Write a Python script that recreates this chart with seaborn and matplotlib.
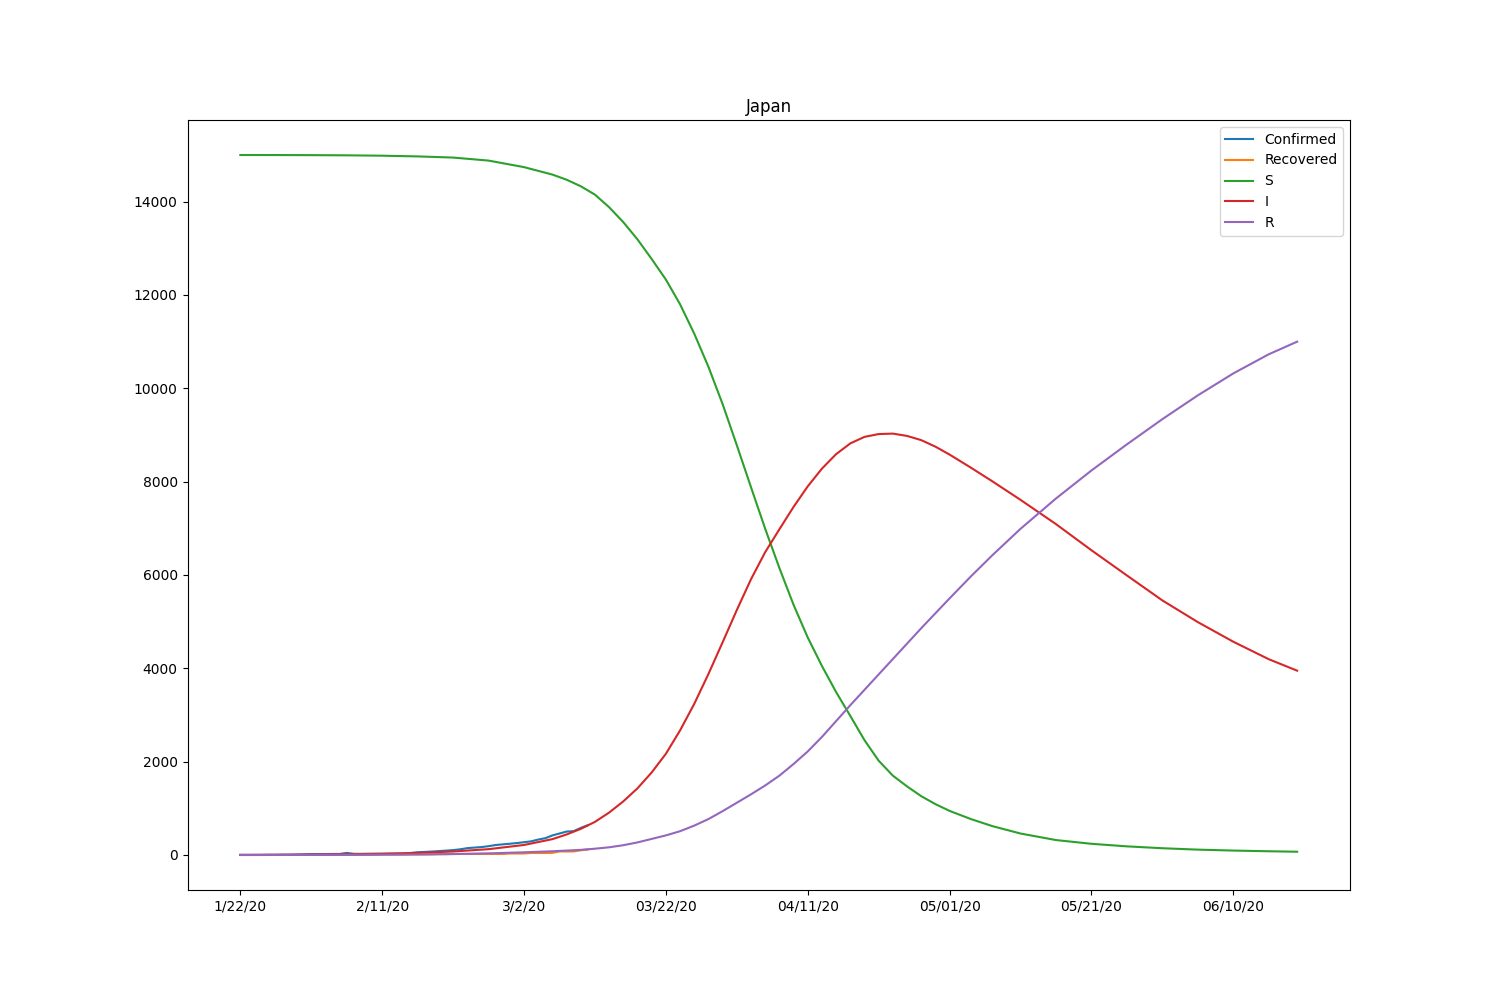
import numpy as np
import pandas as pd
import matplotlib
matplotlib.use("Agg")
import matplotlib.pyplot as plt
import seaborn as sns

country = "Japan"

# reported data, one value per day from 1/22/20
confirmed = [2, 1, 2, 2, 4, 4, 7, 7, 11, 15,
             20, 20, 20, 22, 22, 45, 25, 25, 26, 26, 26, 28, 28, 29, 43, 59, 66, 74, 84,
             94, 105, 122, 147, 159, 170, 189, 214, 228, 241,
             256, 274, 293, 331, 360, 420, 461, 502, 511, 581, 639]
recovered = [0, 0, 0, 0, 1, 1, 1, 1, 1, 1,
             1, 1, 1, 1, 1, 1, 1, 1, 1, 4, 9, 9, 9, 9, 12, 12, 12, 13, 18,
             18, 22, 22, 22, 22, 22, 22, 22, 22, 32,
             32, 32, 43, 43, 43, 46, 76, 76, 76, 101, 118]

# fitted SIR model (day index from 1/22/20)
sir_days = [0, 5, 10, 15, 20, 25, 30, 35, 40, 44, 46, 48, 50, 52, 54, 56, 58,
            60, 62, 64, 66, 68, 70, 72, 74, 76, 78, 80, 82, 84, 86, 88, 90,
            92, 94, 96, 98, 100, 103, 106, 110, 115, 120, 125, 130, 135, 140,
            145, 149]
s_vals = [15000, 14999, 14997, 14993, 14985, 14970, 14945, 14880, 14740,
          14580, 14470, 14330, 14150, 13880, 13560, 13190, 12770,
          12330, 11800, 11170, 10460, 9660, 8780, 7880, 6990, 6150, 5360,
          4660, 4050, 3490, 2980, 2460, 2020,
          1700, 1470, 1260, 1090, 945, 770, 620, 460, 320, 240, 185, 145,
          115, 95, 80, 70]
i_vals = [2, 4, 8, 15, 27, 45, 75, 125, 215,
          340, 440, 560, 710, 910, 1150, 1430, 1770,
          2170, 2670, 3240, 3880, 4560, 5250, 5910, 6490, 6980, 7460,
          7900, 8280, 8590, 8820, 8960, 9020,
          9030, 8980, 8890, 8750, 8580, 8300, 8010, 7610, 7090, 6530, 5990,
          5455, 4990, 4570, 4195, 3950]
r_vals = [0, 1, 2, 4, 7, 12, 20, 35, 58,
          80, 95, 110, 135, 165, 210, 270, 345,
          420, 510, 630, 770, 940, 1120, 1300, 1490, 1700, 1950,
          2220, 2530, 2870, 3210, 3540, 3870,
          4200, 4530, 4860, 5180, 5500, 5970, 6420, 6990, 7640, 8240, 8800,
          9340, 9850, 10320, 10730, 11000]

tick_days = [0, 20, 40, 60, 80, 100, 120, 140]
tick_labels = ["1/22/20", "2/11/20", "3/2/20", "03/22/20", "04/11/20",
               "05/01/20", "05/21/20", "06/10/20"]

obs_days = np.arange(len(confirmed))

fig, ax = plt.subplots(figsize=(15, 10), dpi=100)
sns.lineplot(x=obs_days, y=confirmed, ax=ax, label="Confirmed")
sns.lineplot(x=obs_days, y=recovered, ax=ax, label="Recovered")
sns.lineplot(x=sir_days, y=s_vals, ax=ax, label="S")
sns.lineplot(x=sir_days, y=i_vals, ax=ax, label="I")
sns.lineplot(x=sir_days, y=r_vals, ax=ax, label="R")

ax.set_xticks(tick_days)
ax.set_xticklabels(tick_labels)
ax.set_title(country)
ax.legend(loc="upper right")

plt.savefig("out.png")
